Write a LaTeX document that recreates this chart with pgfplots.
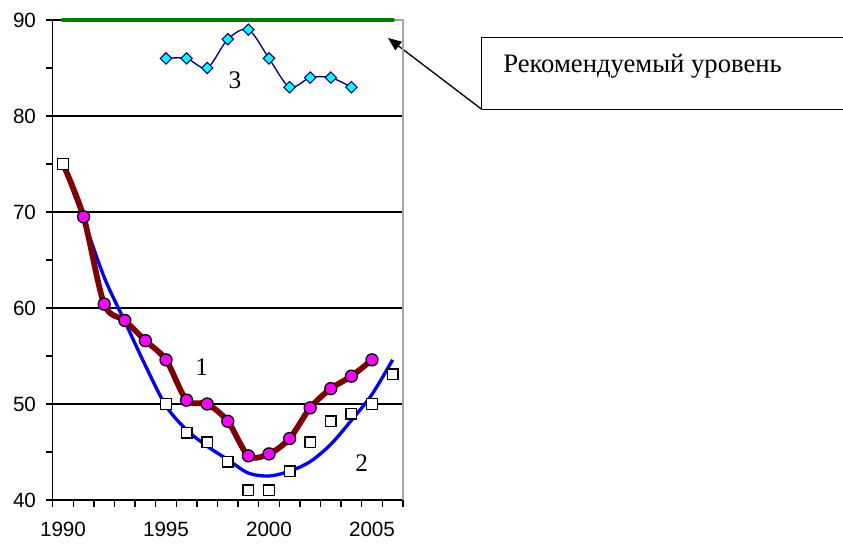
\documentclass[border=0pt]{standalone}
\usepackage{pgfplots}
\pgfplotsset{compat=1.18}
\usepackage{fontspec}
\setmainfont{Liberation Serif}
\newfontfamily\arial{Liberation Sans}
\usetikzlibrary{arrows.meta}
\definecolor{darkred}{RGB}{128,0,0}
\definecolor{navy}{RGB}{0,0,128}
\definecolor{xlgreen}{RGB}{0,128,0}
\definecolor{xlmagenta}{RGB}{255,0,255}
\definecolor{xlcyan}{RGB}{0,255,255}
\definecolor{xlblue}{RGB}{0,0,255}

\begin{document}
\begin{tikzpicture}
% pixel frame of the reference: axis corner (52.7,500) sits at the origin
\begin{scope}[x=0.75pt,y=-0.75pt,shift={(-39.525pt,375pt)}]
\useasboundingbox (0,0) rectangle (843,543);
\draw[line width=1pt] (481.7,109.3) -- (481.7,37.3) -- (860,37.3);
\draw[line width=1pt] (481.7,109.3) -- (860,109.3);
\node[anchor=base west,inner sep=0pt,font=\fontsize{20}{24}\selectfont] at (503,73) {Рекомендуемый уровень};
\draw[line width=1pt,-{Triangle[length=10pt,width=8pt]}] (481.7,109.3) -- (388,38);
\node[font=\fontsize{19}{22}\selectfont] at (201.7,366.7) {1};
\node[font=\fontsize{19}{22}\selectfont] at (361.7,463.3) {2};
\node[font=\fontsize{19}{22}\selectfont] at (235,80) {3};
\end{scope}

\begin{axis}[
  width=262.65pt, height=360pt, scale only axis,
  xmin=1989.5, xmax=2006.5, ymin=40, ymax=90,
  axis lines*=left,
  axis line style={line width=1pt},
  xtick={1990,1995,2000,2005},
  major x tick style={draw=none},
  minor xtick={1989.5,1990.5,...,2006.5},
  ytick={40,50,...,90},
  minor ytick={45,55,...,85},
  tick align=outside,
  major tick length=5pt, minor tick length=5pt,
  tick style={black,line width=1pt},
  ymajorgrids,
  major grid style={black,line width=1pt},
  tick label style={font=\arial\fontsize{15.5}{18}\selectfont},
  yticklabel style={xshift=-4pt},
  xticklabel style={yshift=-8pt},
  /pgf/number format/assume math mode=true,
  /pgf/number format/1000 sep={},
  clip=false,
]
\draw[gray!70,line width=1pt] (rel axis cs:0.97,1) -| (rel axis cs:1,0);

% recommended level
\addplot[xlgreen,line width=3.4pt,line cap=round] coordinates {(1990,90) (2006,90)};

% 2 - trend line
\addplot[xlblue,line width=2.5pt,smooth] coordinates {
  (1990,75) (1991,69.2) (1992,63.2) (1993,58.6) (1994,54.0) (1995,49.8)
  (1996,47.3) (1997,45.6) (1998,44.2) (1999,42.8) (2000,42.5) (2001,43.0)
  (2002,44.0) (2003,45.8) (2004,48.3) (2005,51.0) (2006,54.6)
};

% 1 - smoothed series
\addplot[darkred,line width=4.3pt,smooth] coordinates {
  (1990,75) (1991,69.5) (1992,60.4) (1993,58.7) (1994,56.6) (1995,54.6)
  (1996,50.4) (1997,50.0) (1998,48.2) (1999,44.6) (2000,44.8) (2001,46.4)
  (2002,49.6) (2003,51.6) (2004,52.9) (2005,54.6)
};
\addplot[only marks,mark=*,mark size=4.5pt,mark options={fill=xlmagenta,draw=black,line width=1pt}] coordinates {
  (1991,69.5) (1992,60.4) (1993,58.7) (1994,56.6) (1995,54.6)
  (1996,50.4) (1997,50.0) (1998,48.2) (1999,44.6) (2000,44.8) (2001,46.4)
  (2002,49.6) (2003,51.6) (2004,52.9) (2005,54.6)
};

% 2 - observed values
\addplot[only marks,mark=square*,mark size=4pt,mark options={fill=white,draw=black,line width=1.1pt}] coordinates {
  (1990,75) (1995,50) (1996,47) (1997,46) (1998,44) (1999,41) (2000,41)
  (2001,43) (2002,46) (2003,48.2) (2004,49) (2005,50) (2006,53.1)
};

% 3
\addplot[navy,line width=1pt,smooth,mark=square*,mark size=3pt,mark options={rotate=45,fill=xlcyan,draw=navy,line width=0.8pt}] coordinates {
  (1995,86) (1996,86) (1997,85) (1998,88) (1999,89) (2000,86)
  (2001,83) (2002,84) (2003,84) (2004,83)
};
\end{axis}
\end{tikzpicture}
\end{document}
